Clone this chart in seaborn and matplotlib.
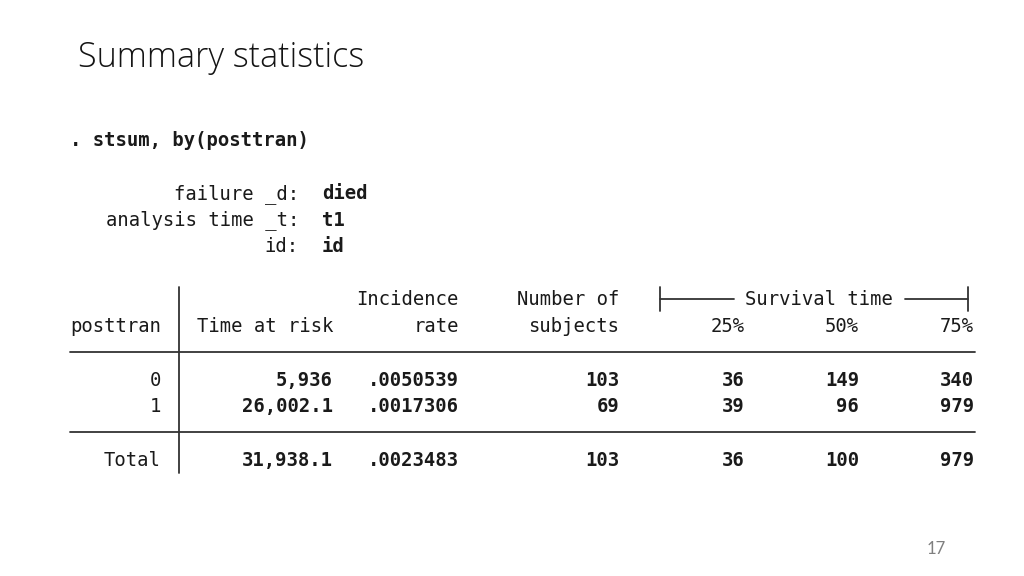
import matplotlib
matplotlib.use("Agg")
import matplotlib.pyplot as plt
import seaborn as sns

# ---- data ----
groups = ["0", "1", "Total"]
time_at_risk = [5936, 26002.1, 31938.1]
incidence = [0.0050539, 0.0017306, 0.0023483]
n_subjects = [103, 69, 103]
surv_25 = [36, 39, 36]
surv_50 = [149, 96, 100]
surv_75 = [340, 979, 979]

command = ". stsum, by(posttran)"
settings_labels = ["failure _d:", "analysis time _t:", "id:"]
settings_values = ["died", "t1", "id"]

sns.set_theme(style="white")
plt.rcParams['font.family'] = ['DejaVu Sans']

W, H = 1024, 576
fig = plt.figure(figsize=(W / 100, H / 100), dpi=100)
ax = fig.add_axes([0, 0, 1, 1])
ax.set_xlim(0, W)
ax.set_ylim(H, 0)
ax.axis("off")

MONO = "DejaVu Sans Mono"
FS = 13.6
TXT = "#1a1a1a"
BO = 6  # baseline offset from row centre


def fmt_time(v):
    s = f"{v:,.1f}"
    return s[:-2] if s.endswith(".0") else s


def fmt_rate(v):
    return f"{v:.7f}".lstrip("0")


def mono(x, y, s, ha="left", bold=False):
    ax.text(x, y + BO, s, family=MONO, weight="bold" if bold else "normal",
            fontsize=FS, color=TXT, ha=ha, va="baseline")


# title
ax.text(78, 58, "Summary statistics", fontsize=24.6, family="Open Sans", weight="light",
        color="#141414", ha="left", va="center")
# page number
ax.text(936, 549, "17", fontsize=12, family="Lato", color="#7f7f7f",
        ha="center", va="center")

# command
mono(70, 140, command, bold=True)
for i, (lab, val) in enumerate(zip(settings_labels, settings_values)):
    y = 193 + i * 26.5
    mono(299, y, lab, ha="right")
    mono(322, y, val, bold=True)

# headers
mono(70, 326, "posttran")
mono(197, 326, "Time at risk")
mono(459, 299, "Incidence", ha="right")
mono(459, 326, "rate", ha="right")
mono(619, 299, "Number of", ha="right")
mono(619, 326, "subjects", ha="right")
mono(745, 326, "25%", ha="right")
mono(859, 326, "50%", ha="right")
mono(974, 326, "75%", ha="right")
mono(819, 299, "Survival time", ha="center")

lc = "#333333"
lw = 1.3
# bracket
ax.plot([660, 734], [299, 299], color=lc, lw=lw)
ax.plot([905, 968], [299, 299], color=lc, lw=lw)
ax.plot([660, 660], [287, 311], color=lc, lw=lw)
ax.plot([968, 968], [287, 311], color=lc, lw=lw)

# rules
ax.plot([70, 975], [352, 352], color=lc, lw=lw)
ax.plot([70, 975], [432, 432], color=lc, lw=lw)
ax.plot([179, 179], [287, 473], color=lc, lw=lw)

# rows
row_y = [380, 406, 460]
for g, t, r, n, a, b, c, y in zip(groups, time_at_risk, incidence, n_subjects,
                                   surv_25, surv_50, surv_75, row_y):
    mono(161, y, g, ha="right")
    for x, s in [(333, fmt_time(t)), (459, fmt_rate(r)), (619, str(n)),
                 (745, str(a)), (859, str(b)), (974, str(c))]:
        mono(x, y, s, ha="right", bold=True)

fig.savefig("out.png", dpi=100, facecolor="white")
